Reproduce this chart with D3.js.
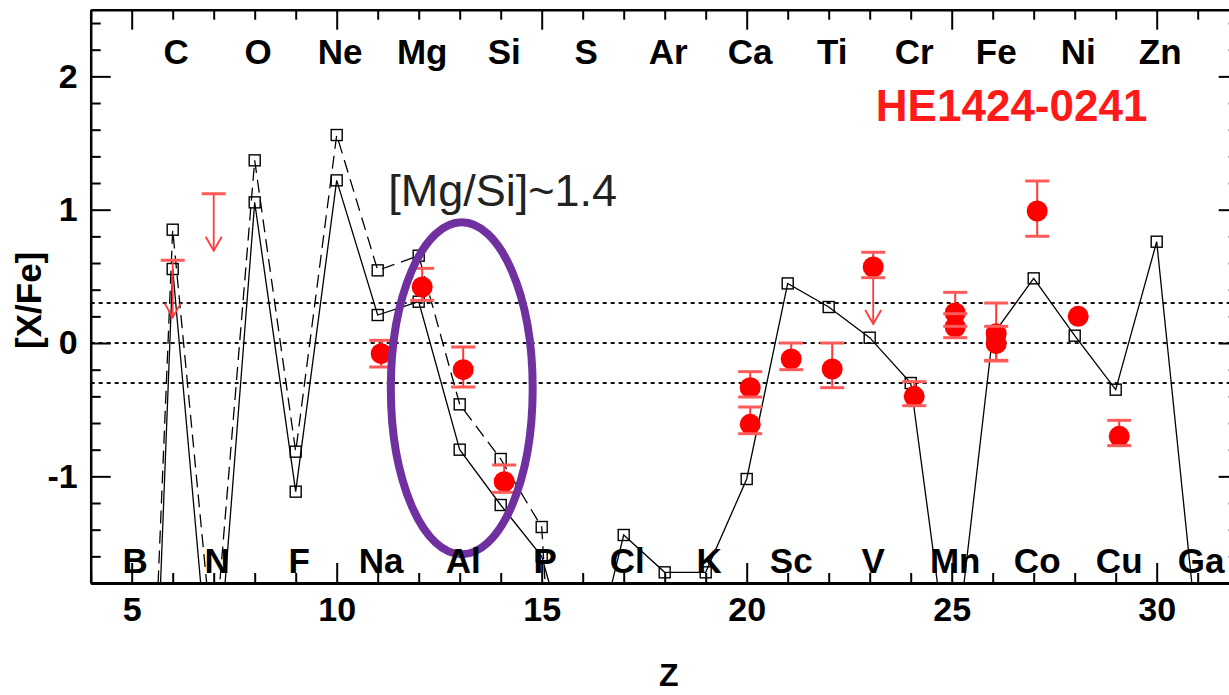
<!DOCTYPE html>
<html>
<head>
<meta charset="utf-8">
<script src="https://cdn.jsdelivr.net/npm/d3@7"></script>
<style>
  html, body { margin: 0; padding: 0; background: #fff; }
  svg { display: block; font-family: "Liberation Sans", Arial, Helvetica, sans-serif; }
</style>
</head>
<body>
<svg id="chart" width="1229" height="695"></svg>
<script>
// ---- element symbols along the frame ----
const evenZ = [6, 8, 10, 12, 14, 16, 18, 20, 22, 24, 26, 28, 30];
const evenSymbols = ["C", "O", "Ne", "Mg", "Si", "S", "Ar", "Ca", "Ti", "Cr", "Fe", "Ni", "Zn"];
const oddZ = [5, 7, 9, 11, 13, 15, 17, 19, 21, 23, 25, 27, 29, 31];
const oddSymbols = ["B", "N", "F", "Na", "Al", "P", "Cl", "K", "Sc", "V", "Mn", "Co", "Cu", "Ga"];

// ---- model yields [X/Fe] (solid line) ----
const modelAZ = [5, 6, 7, 8, 9, 10, 11, 12, 13, 14, 15, 16, 17, 18, 19, 20, 21, 22, 23, 24, 25, 26, 27, 28, 29, 30, 31];
const modelA  = [-7.4, 0.555, -2.9, 1.055, -1.115, 1.22, 0.21, 0.31, -0.80, -1.215, -1.6, -2.7, -1.44, -1.72, -1.72, -1.02, 0.447, 0.27, 0.04, -0.30, -2.6, 0.06, 0.485, 0.055, -0.35, 0.76, -2.23];

// ---- model yields [X/Fe] (dashed line) ----
const modelBZ = [5, 6, 7, 8, 9, 10, 11, 12, 13, 14, 15, 16];
const modelB  = [-6.6, 0.85, -2.35, 1.37, -0.815, 1.56, 0.545, 0.655, -0.46, -0.87, -1.38, -6.5];

// ---- measured abundances of HE1424-0241 ----
const obsZ     = [11, 12, 13, 14, 20, 20, 21, 22, 23, 24, 25, 25, 26, 26, 27, 28, 29];
const obsVal   = [-0.08, 0.42, -0.20, -1.04, -0.335, -0.61, -0.12, -0.195, 0.57, -0.40, 0.225, 0.12, 0.07, -0.005, 0.99, 0.20, -0.70];
const obsErrUp = [0.10, 0.14, 0.17, 0.125, 0.12, 0.13, 0.12, 0.195, 0.11, 0.11, 0.155, 0.10, 0.23, 0.13, 0.225, 0, 0.12];
const obsErrDn = [0.10, 0.10, 0.13, 0.08, 0.07, 0.07, 0.08, 0.14, 0.08, 0.07, 0.10, 0.08, 0.20, 0.13, 0.19, 0, 0.07];
const obsLimitZ = [23];            // measurement that is also flagged as an upper limit

// ---- upper limits only ----
const limZ   = [6, 7];
const limVal = [0.62, 1.12];

// ---- reference levels and ticks ----
const refLevels   = [0.3, 0, -0.3];
const yMajorTicks = [-1, 0, 1, 2];
const yMinorTicks = [-1.8, -1.6, -1.4, -1.2, -0.8, -0.6, -0.4, -0.2, 0.2, 0.4, 0.6, 0.8, 1.2, 1.4, 1.6, 1.8, 2.2, 2.4];
const zMajorTicks = [5, 10, 15, 20, 25, 30];
const zMinorTicks = [4, 6, 7, 8, 9, 11, 12, 13, 14, 16, 17, 18, 19, 21, 22, 23, 24, 26, 27, 28, 29, 31, 32];

const starName = "HE1424-0241";
const ratioNote = "[Mg/Si]~1.4";

// ---------------------------------------------------------------
const svg = d3.select("#chart");

const x = d3.scaleLinear().domain([4, 32]).range([90.7, 1238.7]);
const y = d3.scaleLinear().domain([-1.8, 2.5]).range([583, 9.7]);
// the observed overlay and the symbol rows sit a few pixels to the right
const xObs = d3.scaleLinear().domain(x.domain()).range(x.range().map(r => r + 3.5));

const [x0, x1] = x.range();
const [y0, y1] = y.range();

svg.append("defs").append("clipPath").attr("id", "plotClip")
  .append("rect")
  .attr("x", x0).attr("y", y1)
  .attr("width", x1 - x0).attr("height", y0 - y1);

const plot = svg.append("g").attr("clip-path", "url(#plotClip)");

// reference levels
plot.selectAll("line.ref").data(refLevels).join("line")
  .attr("class", "ref")
  .attr("x1", x0).attr("x2", x1)
  .attr("y1", d => y(d)).attr("y2", d => y(d))
  .attr("stroke", "#111").attr("stroke-width", 2)
  .attr("stroke-dasharray", "4,4");

// model curves
const lineGen = d3.line().x(d => x(d[0])).y(d => y(d[1]));
const seriesA = modelAZ.map((z, i) => [z, modelA[i]]);
const seriesB = modelBZ.map((z, i) => [z, modelB[i]]);

plot.append("path").datum(seriesB)
  .attr("d", lineGen).attr("fill", "none")
  .attr("stroke", "#000").attr("stroke-width", 1.3)
  .attr("stroke-dasharray", "13,7");
plot.append("path").datum(seriesA)
  .attr("d", lineGen).attr("fill", "none")
  .attr("stroke", "#000").attr("stroke-width", 1.3);

const sq = 11;
[seriesA, seriesB].forEach(s => {
  plot.selectAll(null).data(s.filter(d => d[1] >= y.domain()[0] && d[1] <= y.domain()[1])).join("rect")
    .attr("x", d => x(d[0]) - sq / 2).attr("y", d => y(d[1]) - sq / 2)
    .attr("width", sq).attr("height", sq)
    .attr("fill", "none").attr("stroke", "#000").attr("stroke-width", 1.4);
});

// measured abundances
const obs = obsZ.map((z, i) => ({ z, v: obsVal[i], up: obsErrUp[i], dn: obsErrDn[i] }));
const red = "#ff0000", barRed = "#ff3a3a", capRed = "#ff5a5a";
const capHalf = 12;

plot.selectAll("line.err").data(obs.filter(d => d.up > 0 || d.dn > 0)).join("line")
  .attr("class", "err")
  .attr("x1", d => xObs(d.z)).attr("x2", d => xObs(d.z))
  .attr("y1", d => y(d.v + d.up)).attr("y2", d => y(d.v - d.dn))
  .attr("stroke", barRed).attr("stroke-width", 2);

// upper-limit arrows (shaft, chevron)
const arrowLen = 57, headH = 14, headW = 8;
function arrow(g, px, py) {
  g.append("line").attr("x1", px).attr("x2", px).attr("y1", py).attr("y2", py + arrowLen)
    .attr("stroke", barRed).attr("stroke-width", 1.8);
  g.append("path")
    .attr("d", `M${px - headW},${py + arrowLen - headH}L${px},${py + arrowLen}L${px + headW},${py + arrowLen - headH}`)
    .attr("fill", "none").attr("stroke", barRed).attr("stroke-width", 1.8);
}
obs.filter(d => obsLimitZ.includes(d.z)).forEach(d => arrow(plot, xObs(d.z), y(d.v)));
limZ.forEach((z, i) => {
  arrow(plot, x(z), y(limVal[i]));
  plot.append("line")
    .attr("x1", x(z) - capHalf).attr("x2", x(z) + capHalf)
    .attr("y1", y(limVal[i])).attr("y2", y(limVal[i]))
    .attr("stroke", capRed).attr("stroke-width", 3);
});

plot.selectAll("circle.obs").data(obs).join("circle")
  .attr("class", "obs")
  .attr("cx", d => xObs(d.z)).attr("cy", d => y(d.v))
  .attr("r", 10.5).attr("fill", red);

const caps = [];
obs.forEach(d => {
  if (d.up > 0) caps.push({ z: d.z, v: d.v + d.up });
  if (d.dn > 0) caps.push({ z: d.z, v: d.v - d.dn });
});
plot.selectAll("line.cap").data(caps).join("line")
  .attr("class", "cap")
  .attr("x1", d => xObs(d.z) - capHalf).attr("x2", d => xObs(d.z) + capHalf)
  .attr("y1", d => y(d.v)).attr("y2", d => y(d.v))
  .attr("stroke", capRed).attr("stroke-width", 3);

// highlight around the Mg-Al-Si group
plot.append("ellipse")
  .attr("cx", x(13.05)).attr("cy", y(-0.34))
  .attr("rx", x(13.05 + 1.73) - x(13.05)).attr("ry", y(-0.34 - 1.245) - y(-0.34))
  .attr("fill", "none").attr("stroke", "#7030a0").attr("stroke-width", 8);

// element symbols
const symStyle = sel => sel
  .attr("text-anchor", "middle").attr("font-size", 35).attr("font-weight", "bold").attr("fill", "#000");
svg.append("g").selectAll("text").data(evenZ).join("text")
  .call(symStyle)
  .attr("x", d => xObs(d)).attr("y", 64)
  .text((d, i) => evenSymbols[i]);
svg.append("g").selectAll("text").data(oddZ).join("text")
  .call(symStyle)
  .attr("x", d => xObs(d)).attr("y", 573)
  .text((d, i) => oddSymbols[i]);

// annotations
svg.append("text")
  .attr("x", xObs(11.17)).attr("y", y(1.03))
  .attr("font-size", 45).attr("fill", "#222")
  .text(ratioNote);
svg.append("text")
  .attr("x", x(23.15)).attr("y", y(1.665))
  .attr("font-size", 44).attr("font-weight", "bold").attr("fill", "#ff1a1a")
  .text(starName);

// axes ----------------------------------------------------------
const axisFont = sel => sel.selectAll("text")
  .attr("font-size", 34).attr("font-weight", "bold").attr("fill", "#000")
  .attr("font-family", "'Liberation Sans', Arial, sans-serif");

function styleAxis(g, width) {
  g.select(".domain").attr("stroke", "#000").attr("stroke-width", width);
  g.selectAll(".tick line").attr("stroke", "#000").attr("stroke-width", 2);
}
const plainNum = d => String(d);   // ASCII hyphen for negatives

// bottom
const gB = svg.append("g").attr("transform", `translate(0,${y0})`)
  .call(d3.axisBottom(x).tickValues(zMajorTicks).tickSize(-20).tickSizeOuter(0).tickPadding(14).tickFormat(plainNum));
styleAxis(gB, 3);
axisFont(gB);
gB.selectAll("text").attr("dy", "0.71em");
svg.append("g").attr("transform", `translate(0,${y0})`)
  .call(d3.axisBottom(x).tickValues(zMinorTicks).tickSize(-10).tickSizeOuter(0).tickFormat(""))
  .call(g => { g.select(".domain").remove(); g.selectAll("line").attr("stroke", "#000").attr("stroke-width", 2); });

// top
const gT = svg.append("g").attr("transform", `translate(0,${y1})`)
  .call(d3.axisTop(x).tickValues(zMajorTicks).tickSize(-20).tickSizeOuter(0).tickFormat(""));
styleAxis(gT, 2.5);
svg.append("g").attr("transform", `translate(0,${y1})`)
  .call(d3.axisTop(x).tickValues(zMinorTicks).tickSize(-10).tickSizeOuter(0).tickFormat(""))
  .call(g => { g.select(".domain").remove(); g.selectAll("line").attr("stroke", "#000").attr("stroke-width", 2); });

// left
const gL = svg.append("g").attr("transform", `translate(${x0},0)`)
  .call(d3.axisLeft(y).tickValues(yMajorTicks).tickSize(-20).tickSizeOuter(0).tickPadding(13).tickFormat(plainNum));
styleAxis(gL, 2.5);
axisFont(gL);
svg.append("g").attr("transform", `translate(${x0},0)`)
  .call(d3.axisLeft(y).tickValues(yMinorTicks).tickSize(-10).tickSizeOuter(0).tickFormat(""))
  .call(g => { g.select(".domain").remove(); g.selectAll("line").attr("stroke", "#000").attr("stroke-width", 2); });

// right
const gR = svg.append("g").attr("transform", `translate(${x1},0)`)
  .call(d3.axisRight(y).tickValues(yMajorTicks).tickSize(-20).tickSizeOuter(0).tickFormat(""));
styleAxis(gR, 2.5);
svg.append("g").attr("transform", `translate(${x1},0)`)
  .call(d3.axisRight(y).tickValues(yMinorTicks).tickSize(-10).tickSizeOuter(0).tickFormat(""))
  .call(g => { g.select(".domain").remove(); g.selectAll("line").attr("stroke", "#000").attr("stroke-width", 2); });

// axis titles
svg.append("text")
  .attr("x", (x(5) + x(31)) / 2 + 4).attr("y", 686)
  .attr("text-anchor", "middle").attr("font-size", 32).attr("font-weight", "bold")
  .text("Z");
svg.append("text")
  .attr("transform", `translate(41,${y(0.32)}) rotate(-90)`)
  .attr("text-anchor", "middle").attr("font-size", 35).attr("font-weight", "bold")
  .text("[X/Fe]");
</script>
</body>
</html>
